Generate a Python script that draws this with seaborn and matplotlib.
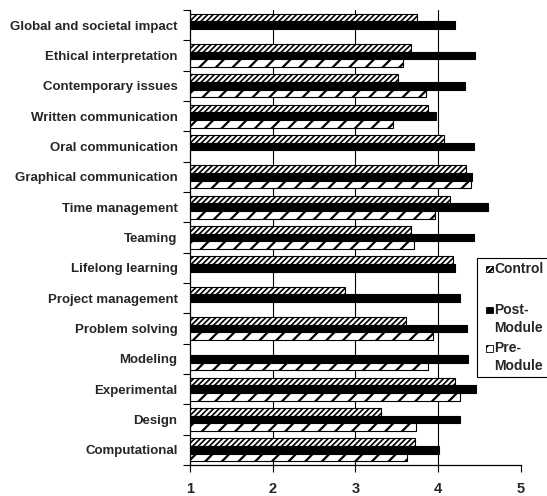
import numpy as np
import pandas as pd
import seaborn as sns
import matplotlib.pyplot as plt
from matplotlib.patches import Rectangle

# Skills, top to bottom as in the chart
skills = ['Global and societal impact', 'Ethical interpretation', 'Contemporary issues',
          'Written communication', 'Oral communication', 'Graphical communication',
          'Time management', 'Teaming', 'Lifelong learning', 'Project management',
          'Problem solving', 'Modeling', 'Experimental', 'Design', 'Computational']

control = [3.75, 3.67, 3.51, 3.88, 4.07, 4.34, 4.15, 3.67, 4.18, 2.87, 3.61, np.nan, 4.21, 3.31, 3.72]
post_module = [4.21, 4.45, 4.33, 3.97, 4.43, 4.41, 4.60, 4.43, 4.20, 4.26, 4.35, 4.36, 4.46, 4.26, 4.01]
pre_module = [np.nan, 3.58, 3.85, 3.45, np.nan, 4.40, 3.96, 3.71, np.nan, np.nan, 3.94, 3.88, 4.26, 3.73, 3.63]

groups = ['Control', 'Post-Module', 'Pre-Module']
legend_lines = [['Control'], ['Post-', 'Module'], ['Pre-', 'Module']]
x_ticks = [1, 2, 3, 4, 5]

df = pd.DataFrame({
    'skill': skills * 3,
    'group': [g for g in groups for _ in skills],
    'score': control + post_module + pre_module,
}).dropna()

sns.set_theme(style="white")
plt.rcParams['font.family'] = ['Liberation Sans', 'DejaVu Sans']
plt.rcParams['font.weight'] = 'bold'
plt.rcParams['hatch.color'] = 'black'
plt.rcParams['hatch.linewidth'] = 1.6

W, H = 547, 496
fig = plt.figure(figsize=(W / 100, H / 100), dpi=100)
ax = fig.add_axes([190 / W, 1 - 465 / H, (520.7 - 190) / W, (465 - 10) / H])

palette = {'Control': 'white', 'Post-Module': 'black', 'Pre-Module': 'white'}
hatches = {'Control': '//////', 'Post-Module': '', 'Pre-Module': '//'}

sns.barplot(data=df, x='score', y='skill', hue='group', order=skills, hue_order=groups,
            palette=palette, orient='h', width=0.75, edgecolor='black', linewidth=0.8,
            legend=False, ax=ax)

for container, g in zip(ax.containers, groups):
    for bar in container:
        bar.set_hatch(hatches[g])
        if g == 'Control' and hasattr(bar, 'set_hatch_linewidth'):
            bar.set_hatch_linewidth(1.2)

# axes styling
ax.set_xlim(1, 5)
ax.set_ylim(14.5, -0.5)
ax.set_xlabel('')
ax.set_ylabel('')
ax.set_xticks(x_ticks)
ax.set_xticklabels([str(t) for t in x_ticks], fontsize=10.5, fontweight='bold')
ax.set_yticks(range(len(skills)))
ax.set_yticklabels(skills, fontsize=9.5, fontweight='bold')
ax.set_yticks(np.arange(-0.5, len(skills), 1), minor=True)
ax.tick_params(axis='y', which='major', length=0, pad=9)
ax.tick_params(axis='y', which='minor', left=True, length=5, width=0.8, color='black', direction='out')
ax.tick_params(axis='x', bottom=True, length=5, width=0.8, color='black', direction='out', pad=7)

ax.grid(axis='x', color='black', linewidth=0.8)
ax.set_axisbelow(True)
gl = ax.get_xgridlines()
gl[0].set_visible(False)
gl[-1].set_visible(False)

for s in ['top', 'right']:
    ax.spines[s].set_visible(False)
for s in ['left', 'bottom']:
    ax.spines[s].set_color('black')
    ax.spines[s].set_linewidth(0.9)

# legend box, drawn by hand so the swatch sits on the first line
fig.add_artist(Rectangle((477 / W, 1 - 377 / H), (570 - 477) / W, (377 - 258) / H,
                         transform=fig.transFigure, facecolor='white', edgecolor='black',
                         linewidth=0.8, clip_on=False))
line_y = [[269], [310, 327.5], [348.5, 366]]
for g, lines, ys in zip(groups, legend_lines, line_y):
    fig.add_artist(Rectangle((486 / W, 1 - (ys[0] + 3.3) / H), 6.5 / W, 6.5 / H,
                             transform=fig.transFigure, facecolor=palette[g],
                             edgecolor='black', linewidth=0.6, hatch=hatches[g]))
    for txt, y in zip(lines, ys):
        fig.text(494 / W, 1 - y / H, txt, fontsize=10, fontweight='bold', va='center', ha='left')

fig.savefig('out.png', dpi=100)
